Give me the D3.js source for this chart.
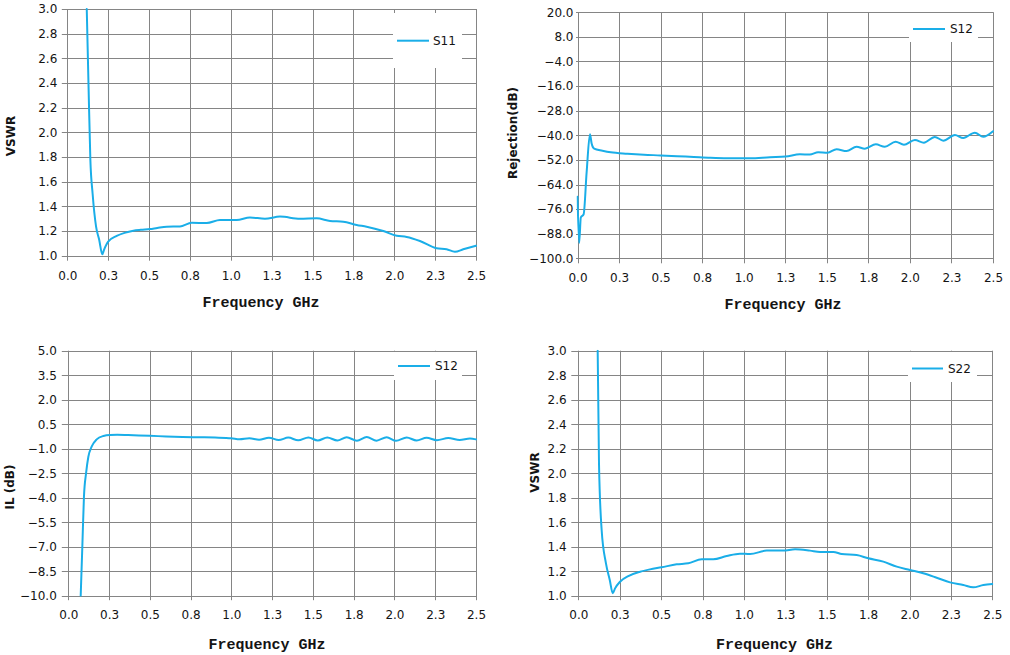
<!DOCTYPE html>
<html><head><meta charset="utf-8">
<script src="https://cdn.jsdelivr.net/npm/d3@7/dist/d3.min.js"></script>
<style>
html,body{margin:0;padding:0;background:#fff;}
svg{display:block;}
</style></head>
<body>
<svg id="c" width="1010" height="655"></svg>
<script>
// ---------- tick data ----------
const freqTicks = [0, 0.25, 0.5, 0.75, 1.0, 1.25, 1.5, 1.75, 2.0, 2.25, 2.5];
const freqTickLabels = ["0.0","0.3","0.5","0.8","1.0","1.3","1.5","1.8","2.0","2.3","2.5"];
const vswrTicks = [1.0, 1.2, 1.4, 1.6, 1.8, 2.0, 2.2, 2.4, 2.6, 2.8, 3.0];
const rejTicks = [-100, -88, -76, -64, -52, -40, -28, -16, -4, 8, 20];
const ilTicks = [-10, -8.5, -7, -5.5, -4, -2.5, -1, 0.5, 2, 3.5, 5];

// ---------- series data ----------
const s11Freq = [0.119,0.130,0.141,0.155,0.176,0.195,0.214,0.224,0.25,0.302,0.35,0.404,0.45,0.506,0.55,0.608,0.689,0.761,0.853,0.934,1.036,1.117,1.209,1.301,1.423,1.525,1.607,1.688,1.77,1.831,1.933,2.015,2.076,2.157,2.259,2.32,2.371,2.422,2.5];
const s11Vswr = [3.0,2.37,1.78,1.50,1.235,1.13,1.011,1.046,1.114,1.16,1.185,1.203,1.21,1.216,1.225,1.235,1.237,1.267,1.265,1.29,1.29,1.31,1.30,1.317,1.30,1.303,1.282,1.276,1.249,1.235,1.20,1.162,1.152,1.119,1.06,1.052,1.032,1.052,1.081];

const s12RejFreq = [0.0,0.01,0.02,0.037,0.055,0.075,0.085,0.1,0.15,0.2,0.3,0.4,0.5,0.6,0.7,0.8,0.9,1.038,1.158,1.252,1.338,1.398,1.448,1.504,1.559,1.619,1.679,1.729,1.795,1.849,1.914,1.964,2.030,2.084,2.150,2.201,2.271,2.321,2.391,2.441,2.5];
const s12RejDb = [-70,-92.5,-80,-78.5,-58,-39.5,-44,-46.5,-47.5,-48.3,-49,-49.5,-49.8,-50.2,-50.6,-51,-51.2,-51.2,-50.7,-50.4,-49.3,-49.4,-48.3,-48.5,-46.8,-47.7,-45.6,-46.5,-44.4,-45.6,-43.1,-44.6,-42.3,-43.6,-40.8,-42.6,-39.9,-41.3,-38.7,-40.7,-38.0];

const s12IlFreq = [0.076,0.086,0.096,0.109,0.123,0.143,0.174,0.215,0.256,0.3,0.4,0.5,0.6,0.7,0.8,0.9,1.0,1.05,1.11,1.17,1.23,1.29,1.349,1.41,1.472,1.53,1.588,1.65,1.707,1.77,1.830,1.89,1.952,2.01,2.075,2.136,2.197,2.26,2.33,2.40,2.463,2.5];
const s12IlDb = [-10.0,-7.0,-3.94,-2.5,-1.49,-0.88,-0.43,-0.22,-0.16,-0.15,-0.18,-0.21,-0.25,-0.28,-0.30,-0.32,-0.36,-0.42,-0.36,-0.45,-0.33,-0.47,-0.32,-0.49,-0.31,-0.50,-0.31,-0.50,-0.30,-0.51,-0.29,-0.51,-0.30,-0.52,-0.31,-0.50,-0.33,-0.48,-0.35,-0.47,-0.38,-0.43];

const s22Freq = [0.117,0.125,0.141,0.167,0.19,0.208,0.222,0.252,0.302,0.373,0.433,0.503,0.594,0.664,0.745,0.815,0.896,0.976,1.037,1.138,1.238,1.309,1.399,1.46,1.54,1.591,1.681,1.751,1.842,1.923,2.003,2.083,2.164,2.245,2.325,2.385,2.446,2.5];
const s22Vswr = [3.0,2.08,1.536,1.264,1.128,1.02,1.06,1.114,1.16,1.196,1.215,1.232,1.256,1.264,1.297,1.297,1.324,1.343,1.340,1.368,1.368,1.379,1.368,1.357,1.357,1.34,1.332,1.305,1.278,1.237,1.21,1.183,1.147,1.109,1.087,1.068,1.087,1.095];

// ---------- layout ----------
const LINE = "#1aaee8", GRID = "#858585", TXT = "#141414";
const panels = [
  {x0:67.3,x1:476,y0:9,y1:255.7, yDom:[1,3], yTicks:vswrTicks, yFmt:d3.format(".1f"),
   fx:freqTicks, series:[s11Freq,s11Vswr], name:"S11", yTitle:"VSWR",
   yTick:5.5, yPad:4.5, xTick:5, xLabY:24.3,
   yTitleX:15, yTitleY:136, xTitleX:261, xTitleY:307,
   leg:{x:393,y:13,w:69,h:55,ly:40.7,lx0:397,lx1:429,tx:433}},
  {x0:577.5,x1:993,y0:12.3,y1:258.3, yDom:[-100,20], yTicks:rejTicks, yFmt:d3.format(".1f"),
   fx:freqTicks, series:[s12RejFreq,s12RejDb], name:"S12", yTitle:"Rejection(dB)",
   yTick:1.5, yPad:2.5, xTick:5, xLabY:23.5,
   yTitleX:517, yTitleY:133, xTitleX:783, xTitleY:309,
   leg:{x:909,y:13,w:69,h:29,ly:29,lx0:913,lx1:945,tx:950}},
  {x0:68.3,x1:476,y0:350.7,y1:595.7, yDom:[-10,5], yTicks:ilTicks, yFmt:d3.format(".1f"),
   fx:freqTicks, series:[s12IlFreq,s12IlDb], name:"S12", yTitle:"IL (dB)",
   yTick:6.5, yPad:5, xTick:4.5, xLabY:23.6,
   yTitleX:14, yTitleY:487, xTitleX:267, xTitleY:649,
   leg:{x:394,y:352,w:68,h:28,ly:366,lx0:398,lx1:430,tx:435}},
  {x0:578.3,x1:992.3,y0:350.7,y1:595.7, yDom:[1,3], yTicks:vswrTicks, yFmt:d3.format(".1f"),
   fx:freqTicks, series:[s22Freq,s22Vswr], name:"S22", yTitle:"VSWR",
   yTick:7, yPad:4.6, xTick:4.5, xLabY:23.6,
   yTitleX:539, yTitleY:472.5, xTitleX:774.5, xTitleY:649,
   leg:{x:908,y:352,w:69,h:30,ly:368.5,lx0:912,lx1:943,tx:948}}
];

const svg = d3.select("#c");
const crisp = v => Math.round(v) + 0.5;

panels.forEach((p, idx) => {
  const x = d3.scaleLinear().domain([0, 2.5]).range([p.x0, p.x1]);
  const y = d3.scaleLinear().domain(p.yDom).range([p.y1, p.y0]);
  const g = svg.append("g");

  // clip
  const cid = "clip" + idx;
  svg.append("defs").append("clipPath").attr("id", cid)
    .append("rect").attr("x", p.x0 - 1).attr("y", p.y0 - 1)
    .attr("width", p.x1 - p.x0 + 2).attr("height", p.y1 - p.y0 + 2);

  // vertical grid + ticks below
  g.append("g").selectAll("line").data(p.fx).join("line")
    .attr("x1", d => crisp(x(d))).attr("x2", d => crisp(x(d)))
    .attr("y1", p.y0).attr("y2", p.y1 + p.xTick)
    .attr("stroke", GRID).attr("stroke-width", 1);
  // horizontal grid + ticks left
  g.append("g").selectAll("line").data(p.yTicks).join("line")
    .attr("y1", d => crisp(y(d))).attr("y2", d => crisp(y(d)))
    .attr("x1", p.x0 - p.yTick).attr("x2", p.x1 + 0.5)
    .attr("stroke", GRID).attr("stroke-width", 1);

  // x tick labels via axis
  const xa = d3.axisBottom(x).tickValues(p.fx)
    .tickFormat((d, i) => freqTickLabels[i]).tickSize(0).tickPadding(0);
  const xg = g.append("g").attr("transform", `translate(0,${p.y1})`).call(xa);
  xg.select(".domain").remove();
  xg.selectAll("text").attr("y", p.xLabY).attr("dy", null)
    .attr("fill", TXT).style("font-family", "'DejaVu Sans'").style("font-size", "12px");

  // y tick labels via axis
  const ya = d3.axisLeft(y).tickValues(p.yTicks).tickFormat(p.yFmt)
    .tickSize(0).tickPadding(p.yTick + p.yPad);
  const yg = g.append("g").attr("transform", `translate(${p.x0},0)`).call(ya);
  yg.select(".domain").remove();
  yg.selectAll("text").attr("fill", TXT)
    .style("font-family", "'DejaVu Sans'").style("font-size", "12px");

  // legend background
  g.append("rect").attr("x", p.leg.x).attr("y", p.leg.y)
    .attr("width", p.leg.w).attr("height", p.leg.h).attr("fill", "#fff");

  // series line
  const pts = p.series[0].map((f, i) => [f, p.series[1][i]]);
  const line = d3.line().x(d => x(d[0])).y(d => y(d[1])).curve(d3.curveMonotoneX);
  g.append("path").datum(pts).attr("d", line)
    .attr("clip-path", `url(#${cid})`)
    .attr("fill", "none").attr("stroke", LINE).attr("stroke-width", 2)
    .attr("stroke-linejoin", "round").attr("stroke-linecap", "round");

  // legend entry
  g.append("line").attr("x1", p.leg.lx0).attr("x2", p.leg.lx1)
    .attr("y1", p.leg.ly).attr("y2", p.leg.ly)
    .attr("stroke", LINE).attr("stroke-width", 2);
  g.append("text").attr("x", p.leg.tx).attr("y", p.leg.ly).attr("dy", "0.36em")
    .attr("fill", TXT).style("font-family", "'DejaVu Sans'").style("font-size", "12px")
    .text(p.name);

  // axis titles
  g.append("text").attr("transform", `translate(${p.yTitleX},${p.yTitleY}) rotate(-90)`)
    .attr("text-anchor", "middle").attr("fill", TXT)
    .style("font-family", "'DejaVu Sans'").style("font-weight", "bold").style("font-size", "12px")
    .text(p.yTitle);
  g.append("text").attr("x", p.xTitleX).attr("y", p.xTitleY)
    .attr("text-anchor", "middle").attr("fill", TXT)
    .style("font-family", "'Liberation Mono'").style("font-weight", "bold").style("font-size", "15px")
    .text("Frequency GHz");
});
</script>
</body></html>
